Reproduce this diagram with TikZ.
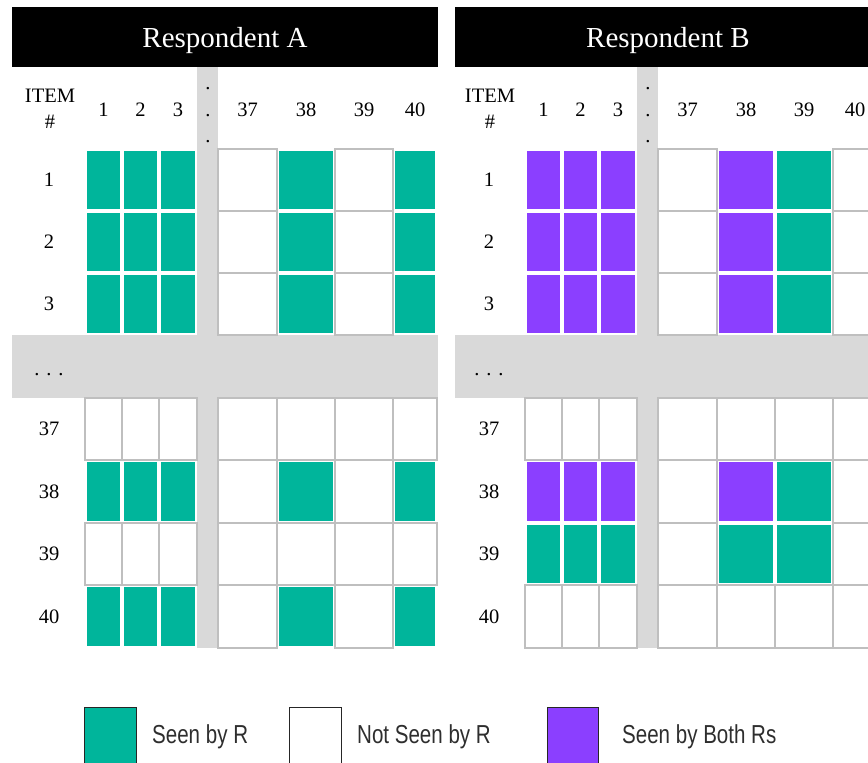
\documentclass[tikz,border=0pt]{standalone}
\usepackage{fontspec}
\setmainfont{Liberation Serif}
\newfontfamily\legendfont{Liberation Sans}
\definecolor{seen}{RGB}{0,181,155}
\definecolor{both}{RGB}{139,63,255}
\definecolor{bandgray}{RGB}{217,217,217}
\definecolor{gridgray}{RGB}{191,191,191}
\newcommand\mkcoords[3]{%
  \pgfmathsetmacro\cxa{{85,122,159,218,277,335,393}[#2-1]+#1}%
  \pgfmathsetmacro\cxb{{122,159,197,277,335,393,437}[#2-1]+#1}%
  \pgfmathsetmacro\cya{{149,211,273,398,460,523,585}[#3-1]}%
  \pgfmathsetmacro\cyb{{211,273,335,460,523,585,648}[#3-1]}%
}
\newcommand\mkfill[4]{%
  \mkcoords{#1}{#2}{#3}%
  \fill[#4] (\cxa+1.6,\cya+1.6) rectangle (\cxb-1.6,\cyb-1.6);
}
\newcommand\mkempty[3]{%
  \mkcoords{#1}{#2}{#3}%
  \draw[emptycell] (\cxa,\cya) rectangle (\cxb,\cyb);
}
\begin{document}
\begin{tikzpicture}[x=1pt,y=-1pt,
  header/.style={fill=black,minimum width=426,minimum height=60,inner sep=0,anchor=center},
  headtext/.style={text=white,font=\fontsize{29}{32}\selectfont,inner sep=0,anchor=base},
  lab/.style={font=\fontsize{20.5}{24}\selectfont,inner sep=0,anchor=center},
  dotlab/.style={font=\fontsize{20.5}{24}\selectfont,inner sep=0,anchor=base},
  emptycell/.style={draw=gridgray,line width=2.6,fill=white},
  bandstyle/.style={fill=bandgray},
  legbox/.style={draw=black!85,line width=1},
  legtext/.style={font=\legendfont\fontsize{26}{30}\selectfont,text=black!82,inner sep=0,anchor=west}
]
\useasboundingbox (0,0) rectangle (868,763);
\clip (0,0) rectangle (868,763);
\fill[white] (0,0) rectangle (868,763);

% headers
\node[header] (hA) at (225,37) {};
\node[header] (hB) at (668,37) {};
\node[headtext] (tA) at (225,47) {Respondent A};
\node[headtext] (tB) at (668,47) {Respondent B};

% gray bars and bands
\fill[bandstyle] (197,67) rectangle (218,648);
\fill[bandstyle] (12,335) rectangle (438,398);
\fill[bandstyle] (637,67) rectangle (658,648);
\fill[bandstyle] (455,335) rectangle (890,398);

% left panel cells
\foreach \r in {1,2,3,5,7}{
  \foreach \c in {1,2,3,5,7}{\mkfill{0}{\c}{\r}{seen}}
  \foreach \c in {4,6}{\mkempty{0}{\c}{\r}}
}
\foreach \r in {4,6}{\foreach \c in {1,...,7}{\mkempty{0}{\c}{\r}}}

% right panel cells
\foreach \r in {1,2,3,5}{
  \foreach \c in {1,2,3,5}{\mkfill{440}{\c}{\r}{both}}
  \mkfill{440}{6}{\r}{seen}
  \foreach \c in {4,7}{\mkempty{440}{\c}{\r}}
}
\foreach \c in {1,2,3,5,6}{\mkfill{440}{\c}{6}{seen}}
\foreach \c in {4,7}{\mkempty{440}{\c}{6}}
\foreach \r in {4,7}{\foreach \c in {1,...,7}{\mkempty{440}{\c}{\r}}}

% labels
\foreach \o/\p in {0/A,440/B}{
  \node[lab] (item\p) at (50+\o,95.5) {ITEM};
  \node[lab] (hash\p) at (50+\o,121.5) {\#};
  \foreach \x/\t in {103.5/1,140.5/2,178/3,247.5/37,306/38,364/39,415/40}{
    \node[lab] (col\p\t) at (\x+\o,110) {\t};
  }
  \foreach \y/\t in {180/1,242/2,304/3,429/37,491.5/38,554/39,616.5/40}{
    \node[lab] (row\p\t) at (49+\o,\y) {\t};
  }
  \node[dotlab] (vd1\p) at (208+\o,89) {.};
  \node[dotlab] (vd2\p) at (208+\o,116) {.};
  \node[dotlab] (vd3\p) at (208+\o,142.5) {.};
  \node[dotlab] (hd\p) at (49+\o,375.5) {.\,\,.\,\,.};
}

% legend
\draw[legbox,fill=seen] (84,707) rectangle (136,775);
\node[legtext] (l1) at (152,737) {\scalebox{0.79}[1]{Seen by R}};
\draw[legbox,fill=white] (289,707) rectangle (341,775);
\node[legtext] (l2) at (357,737) {\scalebox{0.79}[1]{Not Seen by R}};
\draw[legbox,fill=both] (547,707) rectangle (598,775);
\node[legtext] (l3) at (622,737) {\scalebox{0.79}[1]{Seen by Both Rs}};
\end{tikzpicture}
\end{document}
